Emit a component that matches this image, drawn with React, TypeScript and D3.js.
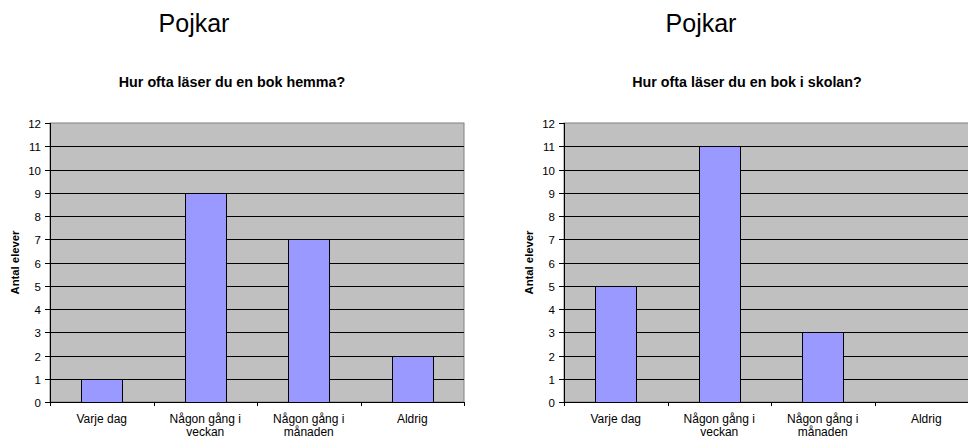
import * as d3 from "d3";

const categories = ["Varje dag", "Någon gång i veckan", "Någon gång i månaden", "Aldrig"];
const categoryLines = [["Varje dag"], ["Någon gång i", "veckan"], ["Någon gång i", "månaden"], ["Aldrig"]];
const hemmaValues = [1, 9, 7, 2];
const skolanValues = [5, 11, 3, 0];
const yTicks = [0, 1, 2, 3, 4, 5, 6, 7, 8, 9, 10, 11, 12];

const font = "Arial, 'Liberation Sans', Helvetica, sans-serif";

type ChartProps = {
  values: number[];
  heading: string;
  title: string;
  left: number;
  headingX: number;
  titleX: number;
};

const Chart = ({ values, heading, title, left, headingX, titleX }: ChartProps) => {
  const plotW = 414;
  const top = 123;
  const bottom = 402;

  const x = d3.scaleBand()
    .domain(categories)
    .range([left, left + plotW])
    .paddingInner(0.6)
    .paddingOuter(0.3);

  const y = d3.scaleLinear().domain([0, 12]).range([bottom, top]);
  const step = x.step();

  return (
    <g>
      <text x={headingX} y={32} fontSize={25} textAnchor="middle" fontFamily={font} fill="#000">
        {heading}
      </text>
      <text x={titleX} y={87} fontSize={14.3} fontWeight="bold" textAnchor="middle" fontFamily={font} fill="#000">
        {title}
      </text>

      {/* plot area */}
      <rect x={left} y={top} width={plotW} height={bottom - top} fill="#c0c0c0" stroke="#808080" strokeWidth={1} />

      {yTicks.filter(t => t > 0 && t < 12).map(t => (
        <line key={t} x1={left} x2={left + plotW} y1={Math.round(y(t)) + 0.5} y2={Math.round(y(t)) + 0.5} stroke="#000" strokeWidth={1} />
      ))}

      {values.map((v, i) => v > 0 && (
        <rect
          key={i}
          x={Math.round(x(categories[i])!) + 0.5}
          y={Math.round(y(v)) + 0.5}
          width={Math.round(x.bandwidth())}
          height={Math.round(y(0)) - Math.round(y(v))}
          fill="#9999ff"
          stroke="#000"
          strokeWidth={1}
        />
      ))}

      {/* y axis */}
      <line x1={left + 0.5} x2={left + 0.5} y1={top} y2={bottom + 0.5} stroke="#000" />
      {yTicks.map(t => (
        <g key={t} transform={`translate(0,${Math.round(y(t)) + 0.5})`}>
          <line x1={left - 5} x2={left} stroke="#000" />
          <text x={left - 9} y={4} fontSize={11.5} textAnchor="end" fontFamily={font} fill="#000">
            {t}
          </text>
        </g>
      ))}

      {/* x axis */}
      <line x1={left} x2={left + plotW} y1={bottom + 0.5} y2={bottom + 0.5} stroke="#000" />
      {d3.range(categories.length + 1).map(i => (
        <line key={i} x1={Math.round(left + i * step) + 0.5} x2={Math.round(left + i * step) + 0.5} y1={bottom} y2={bottom + 4} stroke="#000" />
      ))}
      {categories.map((c, i) => (
        <text key={c} textAnchor="middle" fontSize={12} fontFamily={font} fill="#000">
          {categoryLines[i].map((ln, j) => (
            <tspan key={j} x={x(c)! + x.bandwidth() / 2} y={423 + j * 13}>{ln}</tspan>
          ))}
        </text>
      ))}

      <text
        transform={`translate(${left - 31},${(top + bottom) / 2}) rotate(-90)`}
        textAnchor="middle"
        fontSize={11.3}
        fontWeight="bold"
        fontFamily={font}
        fill="#000"
      >
        Antal elever
      </text>
    </g>
  );
};

export default function App() {
  return (
    <svg width={968} height={441} style={{ position: "absolute", left: 0, top: 0, background: "#fff" }}>
      <rect width={968} height={441} fill="#fff" />
      <Chart values={hemmaValues} heading="Pojkar" title="Hur ofta läser du en bok hemma?" left={50} headingX={194} titleX={232} />
      <Chart values={skolanValues} heading="Pojkar" title="Hur ofta läser du en bok i skolan?" left={564} headingX={701} titleX={747} />
    </svg>
  );
}
